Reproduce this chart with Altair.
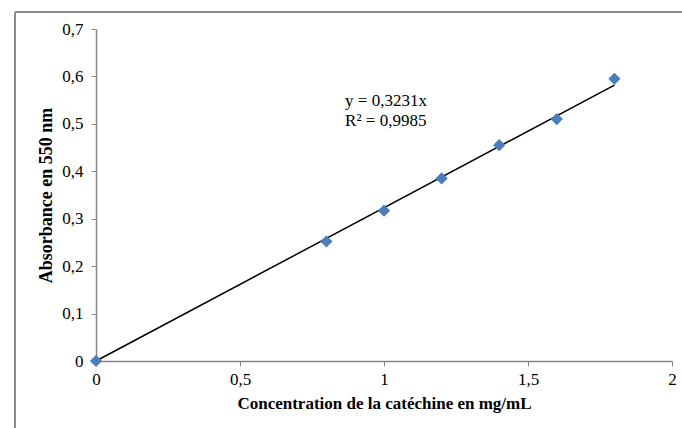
import altair as alt
import pandas as pd

conc = [0, 0.8, 1.0, 1.2, 1.4, 1.6, 1.8]
absorb = [0.0, 0.252, 0.317, 0.385, 0.455, 0.510, 0.595]
slope = 0.3231
trend_x = [0, 1.8]
eq_lines = ["y = 0,3231x", "R² = 0,9985"]
eq_x = [0.865, 0.865]
eq_y = [0.548, 0.506]

pts = pd.DataFrame({"x": conc, "y": absorb})
trend = pd.DataFrame({"x": trend_x, "y": [slope * v for v in trend_x]})
eq = pd.DataFrame({"x": eq_x, "y": eq_y, "t": eq_lines})

FONT = "Liberation Serif"
label_expr = "replace(format(datum.value, '~g'), '.', ',')"

xs = alt.Scale(domain=[0, 2], nice=False, zero=True)
ys = alt.Scale(domain=[0, 0.7], nice=False, zero=True)

xaxis = alt.Axis(values=[0, 0.5, 1, 1.5, 2], labelExpr=label_expr, grid=False,
                 labelFlush=False, labelOverlap=False,
                 title="Concentration de la catéchine en mg/mL",
                 titleFont=FONT, titleFontSize=17, titleFontWeight="bold",
                 titleColor="black", titlePadding=8,
                 labelFont=FONT, labelFontSize=17, labelColor="black",
                 labelPadding=5, tickSize=5, tickColor="#868686",
                 domainColor="#868686", domainWidth=1.5)
yaxis = alt.Axis(values=[0, 0.1, 0.2, 0.3, 0.4, 0.5, 0.6, 0.7], labelExpr=label_expr,
                 labelFlush=False, labelOverlap=False,
                 grid=False, title="Absorbance en 550 nm",
                 titleFont=FONT, titleFontSize=18, titleFontWeight="bold",
                 titleColor="black", titlePadding=6,
                 labelFont=FONT, labelFontSize=17, labelColor="black",
                 labelPadding=8, tickSize=5, tickColor="#868686",
                 domainColor="#868686", domainWidth=1.5)

points = alt.Chart(pts).mark_point(shape="diamond", filled=True, size=150,
                                   color="#4A7EBB", opacity=1).encode(
    x=alt.X("x:Q", scale=xs, axis=xaxis),
    y=alt.Y("y:Q", scale=ys, axis=yaxis),
)

line = alt.Chart(trend).mark_line(color="black", strokeWidth=1.5).encode(
    x=alt.X("x:Q", scale=xs),
    y=alt.Y("y:Q", scale=ys),
)

text = alt.Chart(eq).mark_text(align="left", baseline="middle", font=FONT,
                               fontSize=17, color="black").encode(
    x=alt.X("x:Q", scale=xs),
    y=alt.Y("y:Q", scale=ys),
    text="t:N",
)

frame_top = alt.Chart(pts).mark_rule(color="#8c8c8c", strokeWidth=1.5).encode(
    x=alt.value(-81), x2=alt.value(700), y=alt.value(-17))
frame_left = alt.Chart(pts).mark_rule(color="#8c8c8c", strokeWidth=1.5).encode(
    x=alt.value(-81), y=alt.value(-17), y2=alt.value(420))

chart = alt.layer(frame_top, frame_left, line, points, text).properties(
    width=576, height=332,
    autosize=alt.AutoSizeParams(type="none"),
    padding={"left": 96, "top": 29, "right": 10, "bottom": 67},
    background="white",
).configure_view(stroke=None)

chart.save("out.html", embed_options={"renderer": "svg", "actions": False})
